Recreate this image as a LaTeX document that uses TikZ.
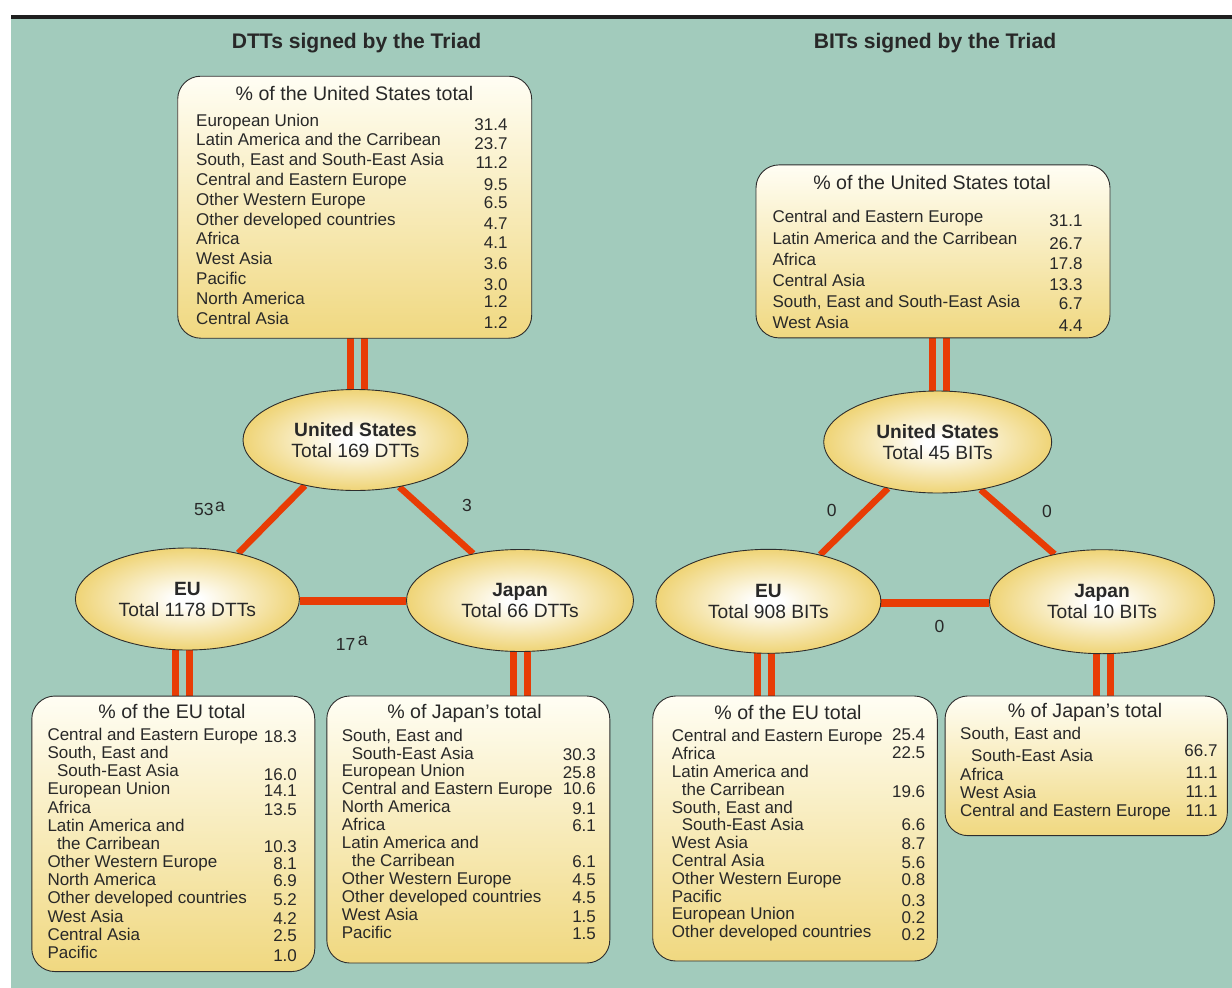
\documentclass[tikz,border=0pt]{standalone}
\usepackage{fontspec}
\setmainfont{Liberation Sans}
\usetikzlibrary{shapes.geometric}
\definecolor{bggreen}{RGB}{162,203,188}
\definecolor{linered}{RGB}{232,60,5}
\definecolor{boxyellow}{RGB}{240,216,128}
\definecolor{boxtop}{RGB}{255,254,244}
\definecolor{ovalyellow}{RGB}{239,212,118}
\definecolor{txt}{RGB}{40,40,40}
\definecolor{edge}{RGB}{45,45,45}
\pgfdeclareradialshading{ovalshade}{\pgfpoint{0bp}{0bp}}{color(0bp)=(white); color(3bp)=(white); color(25bp)=(ovalyellow); color(50bp)=(ovalyellow)}
\pgfdeclarelayer{back}
\pgfdeclarelayer{links}
\pgfsetlayers{back,links,main}
\newcommand\numv[2][2]{\raisebox{-#1pt}{#2}}
\tikzset{
  x=1pt, y=-1pt,
  infobox/.style={draw=edge, line width=0.9pt, rounded corners=23pt, top color=boxtop, bottom color=boxyellow, inner sep=0pt},
  oval/.style={ellipse, draw=edge, line width=0.9pt, shading=ovalshade, inner sep=0pt, align=center, text=txt, font=\fontsize{19.2}{21}\selectfont},
  link/.style={draw=linered, line width=6.5pt},
  hlink/.style={draw=linered, line width=8pt},
  dbl/.style={draw=linered, line width=7pt, double=bggreen, double distance=7pt},
  boxtitle/.style={inner sep=0pt, anchor=base, text=txt, font=\fontsize{19.6}{22}\selectfont},
  maintitle/.style={inner sep=0pt, anchor=base, text=txt, font=\fontsize{21.1}{24}\selectfont\bfseries},
  rows/.style={inner sep=0pt, anchor=base west, text=txt},
  lbl/.style={inner sep=0pt, text=txt, font=\fontsize{17.5}{20}\selectfont},
}
\begin{document}
\begin{tikzpicture}
\useasboundingbox (0,0) rectangle (1232,988);
\begin{pgfonlayer}{back}
  \fill[white] (0,0) rectangle (1232,988);
  \fill[bggreen] (11,18) rectangle (1232,988);
  \fill[black!88] (11,15) rectangle (1232,18.5);
\end{pgfonlayer}

% main titles
\node[maintitle] (tdtt) at (356.5,48.3) {DTTs signed by the Triad};
\node[maintitle] (tbit) at (935,48.3) {BITs signed by the Triad};

% ---------- boxes ----------
\node[infobox, minimum width=354pt, minimum height=262pt] (usdttbox) at (354.7,207.2) {};
\node[infobox, minimum width=354pt, minimum height=173pt] (usbitbox) at (933,251.4) {};
\node[infobox, minimum width=283pt, minimum height=275.5pt] (eudttbox) at (173.3,833.8) {};
\node[infobox, minimum width=283pt, minimum height=267pt] (jpdttbox) at (468.3,829.5) {};
\node[infobox, minimum width=284.6pt, minimum height=265pt] (eubitbox) at (795,828.5) {};
\node[infobox, minimum width=282.3pt, minimum height=139.7pt] (jpbitbox) at (1086.2,765.8) {};

% ---------- ellipses ----------
\node[oval, minimum width=225pt, minimum height=101pt] (usd) at (355.5,440) {\textbf{United States}\\Total 169 DTTs};
\node[oval, minimum width=224pt, minimum height=102pt] (eud) at (187.4,599) {\textbf{EU}\\Total 1178 DTTs};
\node[oval, minimum width=227pt, minimum height=102pt] (jpd) at (520,600.5) {\textbf{Japan}\\Total 66 DTTs};
\node[oval, minimum width=228pt, minimum height=102pt] (usb) at (937.7,442) {\textbf{United States}\\Total 45 BITs};
\node[oval, minimum width=225pt, minimum height=104pt] (eub) at (768.4,601.3) {\textbf{EU}\\Total 908 BITs};
\node[oval, minimum width=225pt, minimum height=104pt] (jpb) at (1102,601.7) {\textbf{Japan}\\Total 10 BITs};

% ---------- connectors ----------
\begin{pgfonlayer}{links}
  \draw[link] (usd.222) -- (eud.42);
  \draw[link] (usd.313) -- (jpd.135.6);
  \draw[hlink] ([yshift=-2pt]eud.east) -- ([yshift=-2pt]eud.east -| jpd.west);
  \draw[link] (usb.223.7) -- (eub.42.3);
  \draw[link] (usb.312.9) -- (jpb.135.5);
  \draw[hlink] ([yshift=-2pt]eub.east) -- ([yshift=-2pt]eub.east -| jpb.west);
  % double links box <-> ellipse
  \draw[dbl] ([xshift=2.3pt,yshift=-4pt]usd.north) -- ([xshift=2.3pt]usd.north |- usdttbox.south) -- ++(0,-4);
  \draw[dbl] ([xshift=-5.4pt,yshift=4pt]eud.south) -- ([xshift=-5.4pt]eud.south |- eudttbox.north) -- ++(0,4);
  \draw[dbl] ([xshift=0.7pt,yshift=4pt]jpd.south) -- ([xshift=0.7pt]jpd.south |- jpdttbox.north) -- ++(0,4);
  \draw[dbl] ([xshift=2pt,yshift=-4pt]usb.north) -- ([xshift=2pt]usb.north |- usbitbox.south) -- ++(0,-4);
  \draw[dbl] ([xshift=-3.9pt,yshift=4pt]eub.south) -- ([xshift=-3.9pt]eub.south |- eubitbox.north) -- ++(0,4);
  \draw[dbl] ([xshift=1.4pt,yshift=4pt]jpb.south) -- ([xshift=1.4pt]jpb.south |- jpbitbox.north) -- ++(0,4);
\end{pgfonlayer}

% ---------- connector labels ----------
\node[lbl, anchor=base west] (l53) at (194,515) {53\hspace{1.5pt}\raisebox{4pt}{a}};
\node[lbl] (l3) at (467,505) {3};
\node[lbl, anchor=base west] (l17) at (335.6,650) {17\hspace{2.5pt}\raisebox{5pt}{a}};
\node[lbl] (lb1) at (831.8,510) {0};
\node[lbl] (lb2) at (1047,511.7) {0};
\node[lbl] (lb3) at (939.4,626.7) {0};

% ---------- box texts ----------
% US DTT
\node[boxtitle] (usdtttitle) at (354.5,100.3) {\% of the United States total};
\node[rows, font=\fontsize{17}{19.8}\selectfont] (usdttrows) at (196,126.1) {%
\begin{tabular*}{311.3pt}[t]{@{}l@{\extracolsep{\fill}}r@{}}
European Union & \numv[4]{31.4}\\
Latin America and the Carribean & \numv[4]{23.7}\\
South, East and South-East Asia & \numv[3]{11.2}\\
Central and Eastern Europe & \numv[5]{9.5}\\
Other Western Europe & \numv[3]{6.5}\\
Other developed countries & \numv[4.4]{4.7}\\
Africa & \numv[3.4]{4.1}\\
West Asia & \numv[4.3]{3.6}\\
Pacific & \numv[6]{3.0}\\
North America & \numv[3.3]{1.2}\\
Central Asia & \numv[3.7]{1.2}
\end{tabular*}};

% US BIT
\node[boxtitle] (usbittitle) at (932,189.7) {\% of the United States total};
\node[rows, font=\fontsize{17}{21.2}\selectfont] (usbitrows) at (772.3,222.8) {%
\begin{tabular*}{310pt}[t]{@{}l@{\extracolsep{\fill}}r@{}}
Central and Eastern Europe & \numv[3.3]{31.1}\\
Latin America and the Carribean & \numv[5]{26.7}\\
Africa & \numv[4.6]{17.8}\\
Central Asia & \numv[4.3]{13.3}\\
South, East and South-East Asia & \numv[1.6]{6.7}\\
West Asia & \numv[3]{4.4}
\end{tabular*}};

% EU DTT
\node[boxtitle] (eudtttitle) at (172,718.7) {\% of the EU total};
\node[rows, font=\fontsize{17}{18.17}\selectfont] (eudttrows) at (47.3,740.4) {%
\begin{tabular*}{249.4pt}[t]{@{}l@{\extracolsep{\fill}}r@{}}
Central and Eastern Europe & \numv[2.4]{18.3}\\
South, East and & \\
\hspace*{9.5pt}South-East Asia & \numv[3.3]{16.0}\\
European Union & \numv[1.7]{14.1}\\
Africa & \numv[2.4]{13.5}\\
Latin America and & \\
\hspace*{9.5pt}the Carribean & \numv[3]{10.3}\\
Other Western Europe & \numv[1.6]{8.1}\\
North America & \numv[0.6]{6.9}\\
Other developed countries & \numv[2]{5.2}\\
West Asia & \numv[2]{4.2}\\
Central Asia & \numv[1.3]{2.5}\\
Pacific & \numv[2.7]{1.0}
\end{tabular*}};

% Japan DTT
\node[boxtitle] (jpdtttitle) at (464.5,718.7) {\% of Japan’s total};
\node[rows, font=\fontsize{17}{17.9}\selectfont] (jpdttrows) at (341.7,741.1) {%
\begin{tabular*}{254pt}[t]{@{}l@{\extracolsep{\fill}}r@{}}
South, East and & \\
\hspace*{10pt}South-East Asia & \numv[1]{30.3}\\
European Union & \numv[1.6]{25.8}\\
Central and Eastern Europe & \numv[0]{10.6}\\
North America & \numv[1.6]{9.1}\\
Africa & \numv[0.7]{6.1}\\
Latin America and & \\
\hspace*{10pt}the Carribean & \numv[0.7]{6.1}\\
Other Western Europe & \numv[1.6]{4.5}\\
Other developed countries & \numv[1.3]{4.5}\\
West Asia & \numv[2.4]{1.5}\\
Pacific & \numv[1]{1.5}
\end{tabular*}};

% EU BIT
\node[boxtitle] (eubittitle) at (788,719.7) {\% of the EU total};
\node[rows, font=\fontsize{17}{17.8}\selectfont] (eubitrows) at (671.7,741.1) {%
\begin{tabular*}{253.3pt}[t]{@{}l@{\extracolsep{\fill}}r@{}}
Central and Eastern Europe & \numv[-1]{25.4}\\
Africa & \numv[-1.3]{22.5}\\
Latin America and & \\
\hspace*{10pt}the Carribean & \numv[2.4]{19.6}\\
South, East and & \\
\hspace*{10pt}South-East Asia & \numv[0]{6.6}\\
West Asia & \numv[1]{8.7}\\
Central Asia & \numv[1.6]{5.6}\\
Other Western Europe & \numv[1.6]{0.8}\\
Pacific & \numv[4]{0.3}\\
European Union & \numv[4]{0.2}\\
Other developed countries & \numv[2.6]{0.2}
\end{tabular*}};

% Japan BIT
\node[boxtitle] (jpbittitle) at (1085,717) {\% of Japan’s total};
\node[rows, font=\fontsize{17}{17.75}\selectfont] (jpbitrows) at (960,739.4) {%
\begin{tabular*}{257.3pt}[t]{@{}l@{\extracolsep{\fill}}r@{}}
South, East and & \\
\hspace*{11pt}South-East Asia & \numv[-4.4]{66.7}\\
Africa & \numv[-2]{11.1}\\
West Asia & \numv[-1.3]{11.1}\\
Central and Eastern Europe & \numv[0]{11.1}
\end{tabular*}};
\end{tikzpicture}
\end{document}
